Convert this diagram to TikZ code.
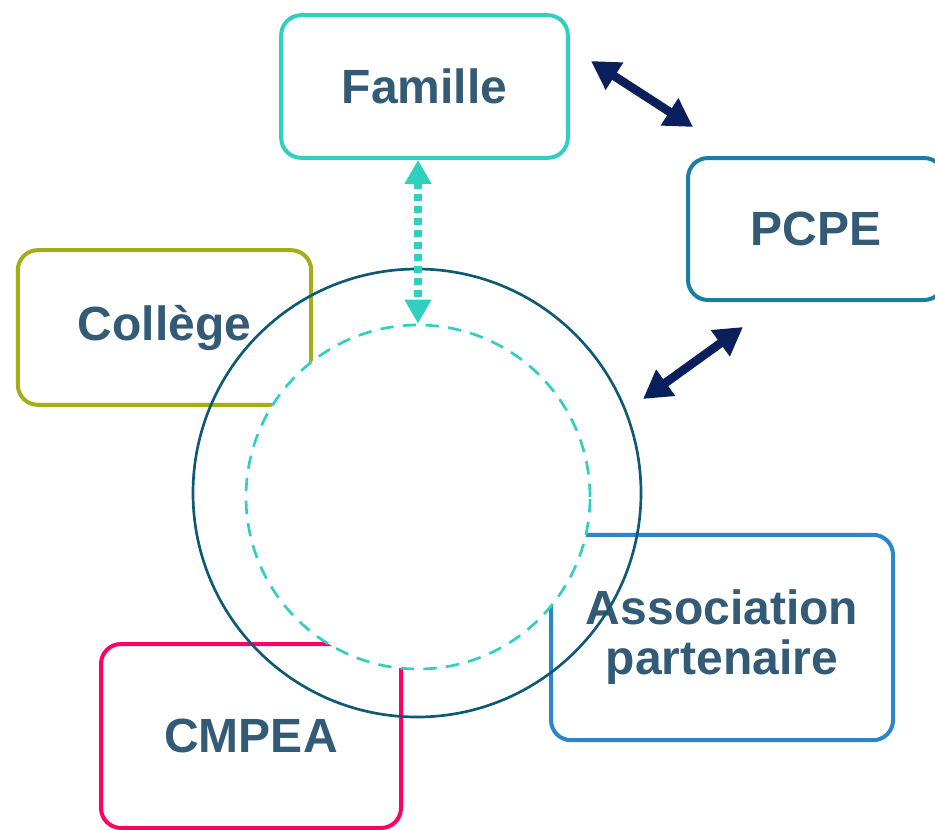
\documentclass[tikz,border=0pt]{standalone}
\usepackage{fontspec}
\setmainfont{Liberation Sans}
\usepackage{xcolor}
\usetikzlibrary{arrows.meta,positioning}
\definecolor{txtblue}{HTML}{335B75}
\definecolor{ringblue}{HTML}{0E5A75}
\definecolor{turq}{HTML}{30D0C0}
\definecolor{pcpeblue}{HTML}{1A7DA3}
\definecolor{olive}{HTML}{A2AD17}
\definecolor{pink}{HTML}{FF0066}
\definecolor{assoblue}{HTML}{2B85C9}
\definecolor{navy}{HTML}{0A1F5C}

\begin{document}
\begin{tikzpicture}[x=0.75pt, y=-0.75pt, thick,
    box/.style = {draw, rounded corners=15pt, line width=3pt, fill=white, text=txtblue, align=center, font=\fontsize{36}{37.5}\selectfont\bfseries},
    link/.style = {draw=navy, line width=6.5pt, {Triangle[length=21pt,width=23pt]}-{Triangle[length=21pt,width=23pt]}}]
          \useasboundingbox (0,0) rectangle (935,829);
          \clip (0,0) rectangle (935,829);

          \node[box, draw=turq, minimum width=215pt, minimum height=107pt] (n_fam) at (424.5,86.5) {Famille};
          \node[box, draw=pcpeblue, minimum width=192pt, minimum height=106.5pt] (n_pcpe) at (816,229) {PCPE};
          \node[box, draw=olive, minimum width=220pt, minimum height=116pt] (n_col) at (164.5,327.5) {Collège};
          \node[box, draw=pink, minimum width=225pt, minimum height=138pt] (n_cmp) at (251,736) {CMPEA};
          \node[box, draw=assoblue, minimum width=256.5pt, minimum height=154pt] (n_asso) at (722,637.5) {Association\\partenaire};

          \node[circle, draw=turq, fill=white, line width=2pt, dash pattern=on 10pt off 7pt, minimum size=258pt] (n_in) at (418,497) {};
          \node[circle, draw=ringblue, line width=2pt, minimum size=336pt] (n_out) at (417,493) {};

          \coordinate (c_1) at (591,61);
          \coordinate (c_2) at (693,127);
          \coordinate (c_3) at (743,327);
          \coordinate (c_4) at (643,399);

          \draw[draw=turq, line width=6pt, dash pattern=on 5pt off 4pt, {Triangle[length=18pt,width=19pt]}-{Triangle[length=18pt,width=19pt]}] (n_in.north |- n_fam.south) -- (n_in.north);
          \draw[link] (c_1) -- (c_2);
          \draw[link] (c_3) -- (c_4);
        \end{tikzpicture}
\end{document}
